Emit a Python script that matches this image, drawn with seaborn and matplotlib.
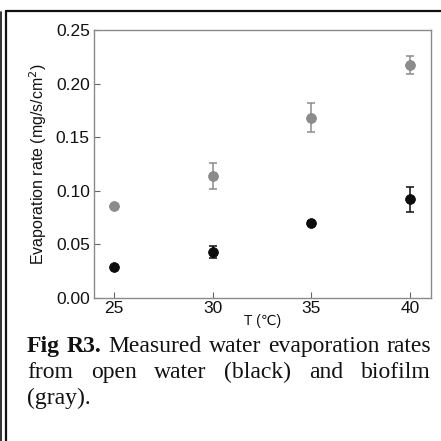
import matplotlib
matplotlib.use("Agg")
import matplotlib.pyplot as plt
import seaborn as sns
import pandas as pd
import numpy as np
from matplotlib.lines import Line2D

temps = [25, 30, 35, 40]
water_rate = [0.029, 0.043, 0.070, 0.092]
water_err = [0.0, 0.0055, 0.002, 0.012]
biofilm_rate = [0.086, 0.114, 0.168, 0.217]
biofilm_err = [0.0, 0.012, 0.0135, 0.0085]
x_ticks = [25, 30, 35, 40]
y_ticks = [0.00, 0.05, 0.10, 0.15, 0.20, 0.25]

caption_lines = [
    [("Fig", True), ("R3.", True), ("Measured", False), ("water", False), ("evaporation", False), ("rates", False)],
    [("from", False), ("open", False), ("water", False), ("(black)", False), ("and", False), ("biofilm", False)],
    [("(gray).", False)],
]

sns.set_theme(style="white")
plt.rcParams['font.family'] = ['Liberation Sans', 'DejaVu Sans']

W = 441
fig = plt.figure(figsize=(4.41, 4.41), dpi=100)
ax = fig.add_axes([94 / W, 1 - 298 / W, (431 - 94) / W, (298 - 30) / W])

df = pd.DataFrame({
    "T": temps * 2,
    "rate": water_rate + biofilm_rate,
    "err": water_err + biofilm_err,
    "group": ["water"] * 4 + ["biofilm"] * 4,
})
colors = {"water": "#0d0d0d", "biofilm": "#8c8c8c"}
edges = {"water": "#000000", "biofilm": "#808080"}

for g in ["biofilm", "water"]:
    sub = df[df.group == g]
    ax.errorbar(sub["T"], sub["rate"], yerr=sub["err"], fmt="none",
                ecolor=colors[g], elinewidth=1.1, capsize=3, capthick=1.1, zorder=2)
    sns.scatterplot(data=sub, x="T", y="rate", ax=ax, color=colors[g],
                    edgecolor=edges[g], linewidth=0.5, s=50, zorder=3, legend=False)

ax.set_xlim(24, 41.05)
ax.set_ylim(0, 0.25)
ax.set_xticks(x_ticks)
ax.set_yticks(y_ticks)
ax.set_xticklabels([str(t) for t in x_ticks])
ax.set_yticklabels([f"{v:.2f}" for v in y_ticks])
ax.tick_params(axis="both", direction="in", length=4, width=0.8, color="#666666",
               labelsize=12.5, labelcolor="#111111", pad=3, bottom=True, left=True)
ax.tick_params(axis="x", pad=2)
for s in ax.spines.values():
    s.set_color("#8a8a8a")
    s.set_linewidth(1.0)
ax.set_xlabel("T (℃)", fontsize=10, labelpad=-1, color="#111111")
ax.set_ylabel("Evaporation rate (mg/s/cm$^2$)", fontsize=11.5, labelpad=5, color="#111111")

# outer frame
fig.add_artist(Line2D([5.5 / W, 5.5 / W], [0, 1 - 10.5 / W], transform=fig.transFigure,
                      color="#111111", lw=1.6))
fig.add_artist(Line2D([5.5 / W, 1], [1 - 10.5 / W, 1 - 10.5 / W], transform=fig.transFigure,
                      color="#111111", lw=1.6))
fig.add_artist(Line2D([1.2 / W, 1.2 / W], [0, 1 - 12 / W], transform=fig.transFigure,
                      color="#111111", lw=1.2))

# justified caption
fig.canvas.draw()
renderer = fig.canvas.get_renderer()
left_px, right_px = 27, 431
baselines = [352, 378, 404]
fs = 17
for li, (words, yb) in enumerate(zip(caption_lines, baselines)):
    texts = []
    widths = []
    for w, bold in words:
        t = fig.text(0, 0, w, fontsize=fs, family="Liberation Serif",
                     weight="bold" if bold else "normal", color="#111111",
                     va="baseline", ha="left")
        bb = t.get_window_extent(renderer)
        texts.append(t)
        widths.append(bb.width)
    if li < len(caption_lines) - 1 and len(words) > 1:
        gap = (right_px - left_px - sum(widths)) / (len(words) - 1)
    else:
        gap = 4
    x = left_px
    for t, wd in zip(texts, widths):
        t.set_position((x / W, 1 - yb / W))
        x += wd + gap

fig.savefig("out.png", dpi=100)
